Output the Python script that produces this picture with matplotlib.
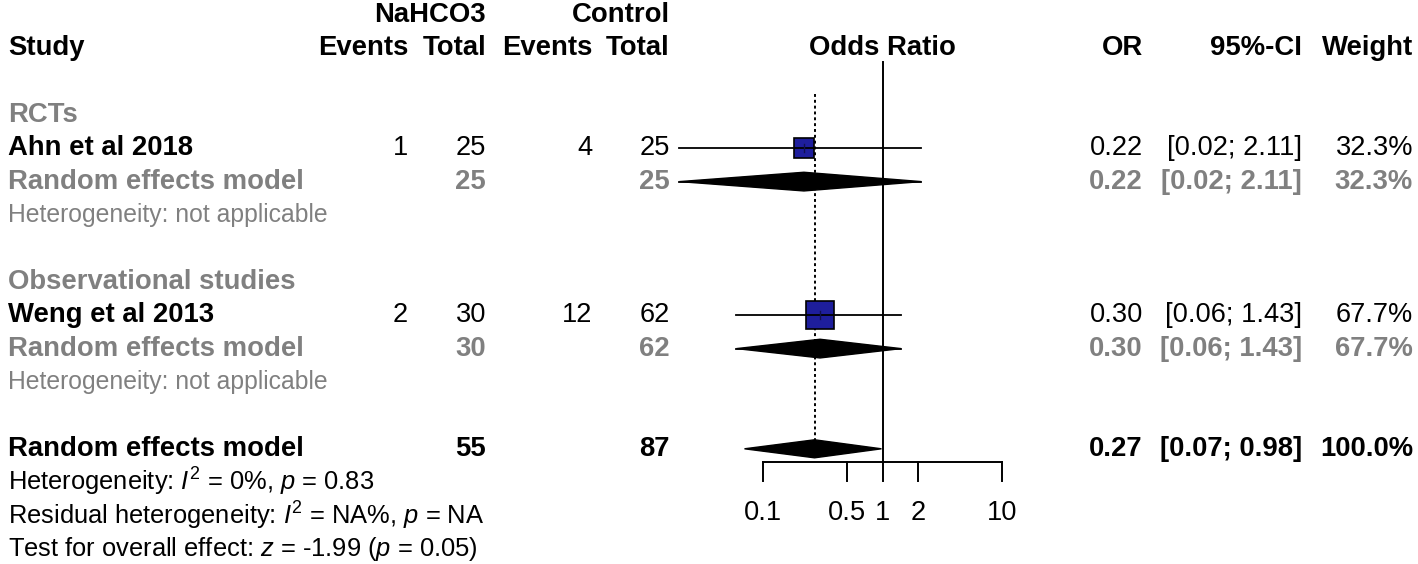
import numpy as np
import matplotlib
matplotlib.use('Agg')
import matplotlib.pyplot as plt
import matplotlib.transforms as mtransforms
from matplotlib.patches import Polygon

plt.rcParams['font.family'] = 'Liberation Sans'
plt.rcParams['mathtext.fontset'] = 'custom'
plt.rcParams['mathtext.rm'] = 'Liberation Sans'
plt.rcParams['mathtext.it'] = 'Liberation Sans:italic'

# data
groups = ['RCTs', 'Observational studies']
studies = ['Ahn et al 2018', 'Weng et al 2013']
ev_trt = [1, 2]
n_trt = [25, 30]
ev_ctl = [4, 12]
n_ctl = [25, 62]
odds = [0.22, 0.30]
ci_lo = [0.02, 0.06]
ci_hi = [2.11, 1.43]
weights = [32.3, 67.7]
pooled_or = 0.27
pooled_lo = 0.07
pooled_hi = 0.98
n_trt_total = 55
n_ctl_total = 87
ticks = [0.1, 0.5, 1, 2, 10]
tick_labels = ['0.1', '0.5', '1', '2', '10']
het_lines = [r'Heterogeneity: $I^2$ = 0%, $p$ = 0.83',
             r'Residual heterogeneity: $I^2$ = NA%, $p$ = NA',
             r'Test for overall effect: $z$ = -1.99 ($p$ = 0.05)']

W, H = 1418, 564
fig = plt.figure(figsize=(W / 100, H / 100), dpi=100)
ax = fig.add_axes([0, 0, 1, 1])
ax.set_xscale('log')
# 119.5 px per decade, x=1 at 882.5 px
ax.set_xlim(10 ** (-882.5 / 119.5), 10 ** ((W - 882.5) / 119.5))
ax.set_ylim((H - 48) / 33.4, -48 / 33.4)
ax.axis('off')

tr = mtransforms.blended_transform_factory(fig.transFigure, ax.transData)
GRAY = '#808080'
FS = 19.6
FS_BOLD = 19.8
FS_SUB = 17.8
FS_HET = 18.4


def put(xpx, row, s, ha='right', bold=False, color='black', size=None):
    if size is None:
        size = FS_BOLD if bold else FS
    ax.text(xpx / W, row, s, transform=tr, ha=ha, va='center',
            fontsize=size, fontweight='bold' if bold else 'normal', color=color)


# headers
put(486, -1, 'NaHCO3', bold=True)
put(670, -1, 'Control', bold=True)
put(8, 0, 'Study', ha='left', bold=True)
put(408, 0, 'Events', bold=True)
put(486, 0, 'Total', bold=True)
put(592, 0, 'Events', bold=True)
put(670, 0, 'Total', bold=True)
put(882.5, 0, 'Odds Ratio', ha='center', bold=True)
put(1143, 0, 'OR', bold=True)
put(1302, 0, '95%-CI', bold=True)
put(1413, 0, 'Weight', bold=True)

col = {'et': 408, 'nt': 486, 'ec': 592, 'nc': 670, 'or': 1143, 'ci': 1302, 'w': 1413}

for i, g in enumerate(groups):
    r0 = 2 + 5 * i
    put(8, r0, g, ha='left', bold=True, color=GRAY)
    # study row
    rs = r0 + 1
    put(8, rs, studies[i], ha='left', bold=True)
    put(col['et'], rs, str(ev_trt[i]))
    put(col['nt'], rs, str(n_trt[i]))
    put(col['ec'], rs, str(ev_ctl[i]))
    put(col['nc'], rs, str(n_ctl[i]))
    put(col['or'], rs, f'{odds[i]:.2f}')
    put(col['ci'], rs, f'[{ci_lo[i]:.2f}; {ci_hi[i]:.2f}]')
    put(col['w'], rs, f'{weights[i]:.1f}%')
    ax.plot(odds[i], rs, marker='s', ms=2.53 * np.sqrt(weights[i]),
            mfc='#1e1e9c', mec='black', mew=1.2, zorder=3)
    ax.plot([ci_lo[i], ci_hi[i]], [rs, rs], color='black', lw=1.3, zorder=4)
    ax.plot([odds[i], odds[i]], [rs - 0.12, rs + 0.12], color='#101050', lw=1, zorder=4)
    # subgroup random effects row
    rr = r0 + 2
    put(8, rr, 'Random effects model', ha='left', bold=True, color=GRAY)
    put(col['nt'], rr, str(n_trt[i]), bold=True, color=GRAY)
    put(col['nc'], rr, str(n_ctl[i]), bold=True, color=GRAY)
    put(col['or'], rr, f'{odds[i]:.2f}', bold=True, color=GRAY)
    put(col['ci'], rr, f'[{ci_lo[i]:.2f}; {ci_hi[i]:.2f}]', bold=True, color=GRAY)
    put(col['w'], rr, f'{weights[i]:.1f}%', bold=True, color=GRAY)
    h = 0.28
    ax.add_patch(Polygon([[ci_lo[i], rr], [odds[i], rr - h], [ci_hi[i], rr],
                          [odds[i], rr + h]], closed=True, fc='black', ec='black',
                         lw=1, zorder=3))
    ax.plot([ci_lo[i], ci_hi[i]], [rr, rr], color='black', lw=1.3, zorder=3)
    put(8, r0 + 3, 'Heterogeneity: not applicable', ha='left', color=GRAY, size=FS_SUB)

# overall
ro = 12
put(8, ro, 'Random effects model', ha='left', bold=True)
put(col['nt'], ro, str(n_trt_total), bold=True)
put(col['nc'], ro, str(n_ctl_total), bold=True)
put(col['or'], ro, f'{pooled_or:.2f}', bold=True)
put(col['ci'], ro, f'[{pooled_lo:.2f}; {pooled_hi:.2f}]', bold=True)
put(col['w'], ro, '100.0%', bold=True)
h = 0.27
ax.add_patch(Polygon([[pooled_lo, ro], [pooled_or, ro - h], [pooled_hi, ro],
                      [pooled_or, ro + h]], closed=True, fc='black', ec='black',
                     lw=1, zorder=3))
for k, s in enumerate(het_lines):
    put(8, 13 + k, s, ha='left', size=FS_HET)

# reference lines
ax.plot([1, 1], [0.42, 12.4], color='black', lw=1.4, zorder=1)
ax.plot([pooled_or, pooled_or], [1.38, ro - h], color='black', lw=1.4,
        ls=(0, (1.5, 1.5)), zorder=1)

# x axis
ax_row = 12.4
ax.plot([ticks[0], ticks[-1]], [ax_row, ax_row], color='black', lw=1.4)
for t, lab in zip(ticks, tick_labels):
    ax.plot([t, t], [ax_row, ax_row + 0.57], color='black', lw=1.4)
    ax.text(t, 13.92, lab, ha='center', va='center', fontsize=FS)

fig.savefig('out.png', dpi=100)
